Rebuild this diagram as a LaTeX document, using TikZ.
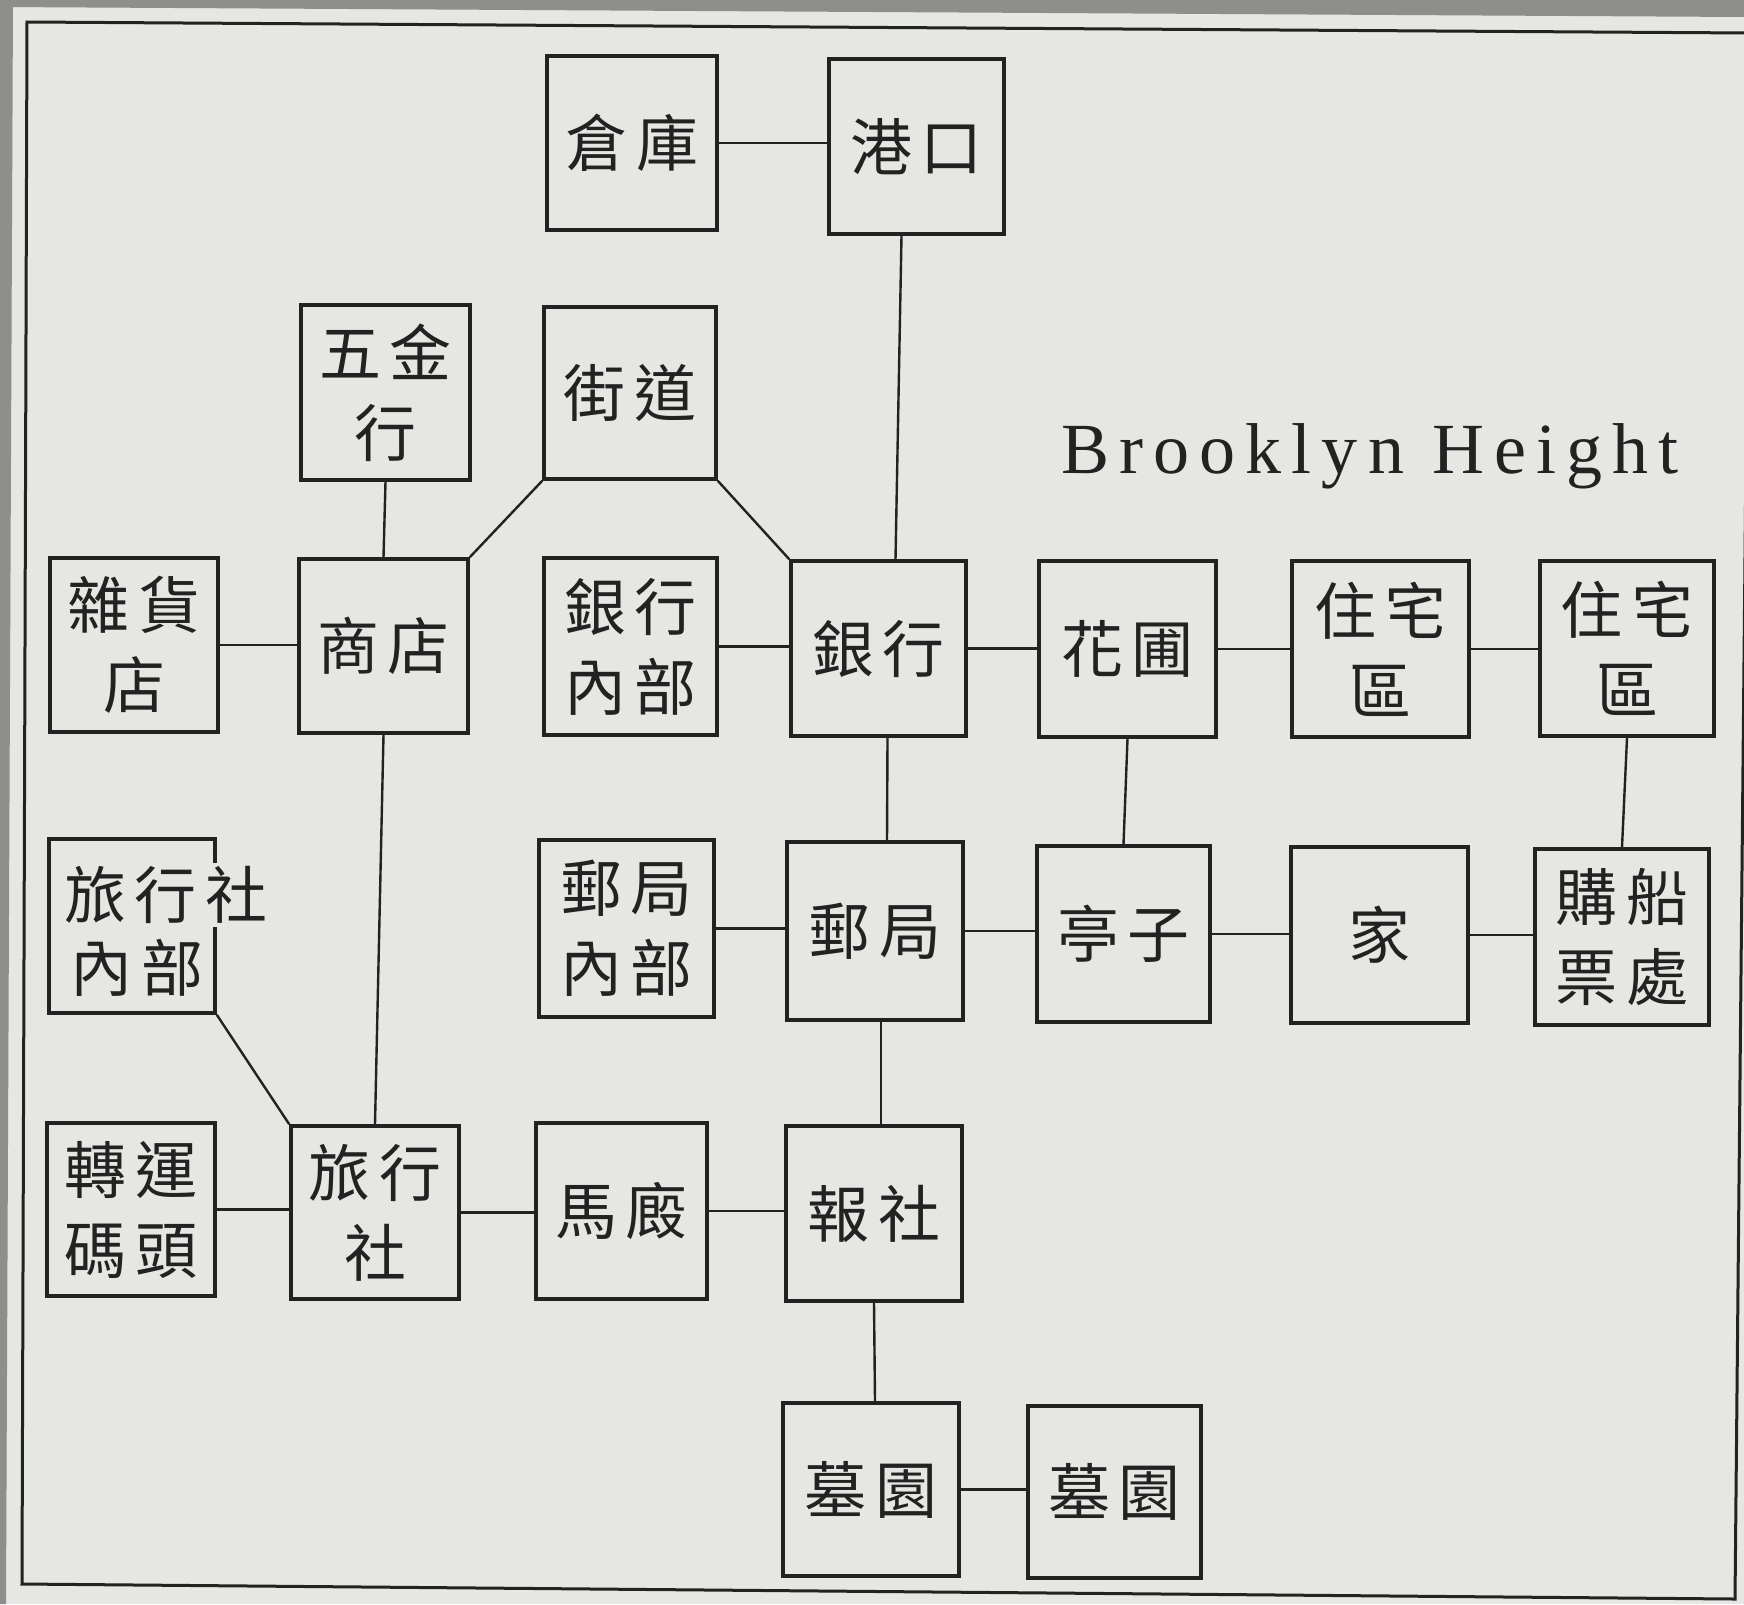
\documentclass[tikz,border=0pt]{standalone}
\usepackage{fontspec}
\setmainfont{Liberation Serif}
\newfontfamily\cjk{Noto Sans CJK TC}[LetterSpace=14]
\newfontfamily\titlefont{Liberation Serif}[LetterSpace=14]
\definecolor{bg}{HTML}{E6E6E3}
\definecolor{ink}{HTML}{222222}
\definecolor{scan}{HTML}{8E8E8C}
\begin{document}
\begin{tikzpicture}[x=1pt,y=-1pt,
  box/.style={draw=ink, line width=3.6pt, inner sep=0pt, align=center,
    font=\cjk\fontsize{62pt}{80pt}\selectfont, text=ink},
  lbl/.style={inner sep=0pt, align=center, font=\cjk\fontsize{62pt}{80pt}\selectfont, text=ink},
  link/.style={draw=ink, line width=2.4pt}]
\useasboundingbox (0,0) rectangle (1744,1604);
\begin{scope}
\clip (0,0) rectangle (1744,1604);
\fill[bg] (0,0) rectangle (1744,1604);
\fill[scan] (0,0) -- (1744,0) -- (1744,17) -- (0,7) -- cycle;
\fill[scan] (0,0) -- (13,0) -- (6,1604) -- (0,1604) -- cycle;
\draw[ink, line width=3pt] (27,22) -- (1750,33) -- (1735,1599) -- (22,1584) -- cycle;
\end{scope}

% row 1
\node[box, minimum width=170pt, minimum height=174pt] (warehouse) at (632,143) {倉庫};
\node[box, minimum width=175pt, minimum height=175pt] (port) at (916.5,146.5) {港口};
% row 2
\node[box, minimum width=169pt, minimum height=175pt] (hardware) at (385.5,392.5) {五金\\行};
\node[box, minimum width=172pt, minimum height=172pt] (street) at (630,393) {街道};
\node[font=\titlefont\fontsize{72pt}{80pt}\selectfont, text=ink, anchor=base, inner sep=0pt] (title) at (1370,473) {Brooklyn Height};
% row 3
\node[box, minimum width=168pt, minimum height=174pt] (grocery) at (134,645) {雜貨\\店};
\node[box, minimum width=169pt, minimum height=174pt] (shop) at (383.5,646) {商店};
\node[box, minimum width=173pt, minimum height=177pt] (bankin) at (630.5,646.5) {銀行\\內部};
\node[box, minimum width=175pt, minimum height=175pt] (bank) at (878.5,648.5) {銀行};
\node[box, minimum width=177pt, minimum height=176pt] (garden) at (1127.5,649) {花圃};
\node[box, minimum width=177pt, minimum height=176pt] (resA) at (1380.5,649) {住宅\\區};
\node[box, minimum width=174pt, minimum height=175pt] (resB) at (1627,648.5) {住宅\\區};
% row 4
\node[box, minimum width=166pt, minimum height=174pt] (tin) at (132,926) {};
\node[lbl, anchor=west, fill=bg, inner sep=3pt] (tin1) at (61,895) {旅行社};
\node[lbl] (tin2) at (137,968) {內部};
\node[box, minimum width=175pt, minimum height=177pt] (postin) at (626.5,928.5) {郵局\\內部};
\node[box, minimum width=176pt, minimum height=178pt] (post) at (875,931) {郵局};
\node[box, minimum width=173pt, minimum height=176pt] (pav) at (1123.5,934) {亭子};
\node[box, minimum width=177pt, minimum height=176pt] (home) at (1379.5,935) {家};
\node[box, minimum width=174pt, minimum height=176pt] (ticket) at (1622,937) {購船\\票處};
% row 5
\node[box, minimum width=168pt, minimum height=173pt] (wharf) at (131,1209.5) {轉運\\碼頭};
\node[box, minimum width=168pt, minimum height=173pt] (travel) at (375,1212.5) {旅行\\社};
\node[box, minimum width=171pt, minimum height=176pt] (stable) at (621.5,1211) {馬廄};
\node[box, minimum width=176pt, minimum height=175pt] (news) at (874,1213.5) {報社};
% row 6
\node[box, minimum width=176pt, minimum height=173pt] (cemA) at (871,1489.5) {墓園};
\node[box, minimum width=173pt, minimum height=172pt] (cemB) at (1114.5,1492) {墓園};

% connectors
\draw[link] (warehouse.east) -- (warehouse.east -| port.west);
\draw[link] ([xshift=-15pt]port.south) -- ([xshift=17pt]bank.north);
\draw[link] (hardware.south) -- (shop.north);
\draw[link] (street.south west) -- (shop.north east);
\draw[link] (street.south east) -- (bank.north west);
\draw[link] (grocery.east) -- (grocery.east -| shop.west);
\draw[link] (bankin.east) -- (bankin.east -| bank.west);
\draw[link] (bank.east) -- (bank.east -| garden.west);
\draw[link] (garden.east) -- (garden.east -| resA.west);
\draw[link] (resA.east) -- (resA.east -| resB.west);
\draw[link] (shop.south) -- (travel.north);
\draw[link] ([xshift=9pt]bank.south) -- ([xshift=12pt]post.north);
\draw[link] (garden.south) -- (pav.north);
\draw[link] (resB.south) -- (ticket.north);
\draw[link] (postin.east) -- (postin.east -| post.west);
\draw[link] (post.east) -- (post.east -| pav.west);
\draw[link] (pav.east) -- (pav.east -| home.west);
\draw[link] (home.east) -- (home.east -| ticket.west);
\draw[link] (tin.south east) -- (travel.north west);
\draw[link] ([xshift=6pt]post.south) -- ([xshift=7pt]news.north);
\draw[link] (wharf.east) -- (wharf.east -| travel.west);
\draw[link] (travel.east) -- (travel.east -| stable.west);
\draw[link] (stable.east) -- (stable.east -| news.west);
\draw[link] (news.south) -- ([xshift=4pt]cemA.north);
\draw[link] (cemA.east) -- (cemA.east -| cemB.west);
\end{tikzpicture}
\end{document}
